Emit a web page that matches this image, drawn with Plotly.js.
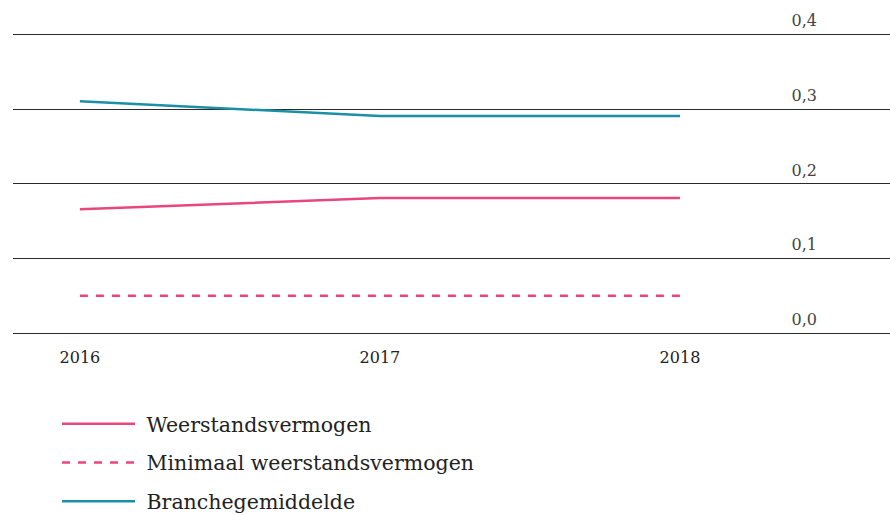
<!DOCTYPE html>
<html>
<head>
<meta charset="utf-8">
<script src="https://cdn.plot.ly/plotly-3.0.1.min.js"></script>
<style>html,body{margin:0;padding:0;background:#fff;}#chart{width:890px;height:515px;}</style>
</head>
<body>
<div id="chart"></div>
<script>
const years = [2016, 2017, 2018];
const weerstandsvermogen = [0.166, 0.181, 0.181];
const minimaalWeerstandsvermogen = [0.05, 0.05, 0.05];
const branchegemiddelde = [0.311, 0.291, 0.291];
const yTicks = [0, 0.1, 0.2, 0.3, 0.4];
const xTickLabels = ['2016', '2017', '2018'];
const seriesNames = ['Weerstandsvermogen', 'Minimaal weerstandsvermogen', 'Branchegemiddelde'];

const pink = '#e8467c';
const teal = '#1a8fa6';
const fontFamily = '"DejaVu Serif", serif';
const pad = '\u00a0';

const traces = [
  {x: years, y: weerstandsvermogen, name: pad + seriesNames[0], mode: 'lines',
   line: {color: pink, width: 2.5}, legendgroup: 'a'},
  {x: years, y: minimaalWeerstandsvermogen, name: pad + seriesNames[1], mode: 'lines',
   line: {color: pink, width: 2.5, dash: '8px,8px'}, legendgroup: 'b'},
  {x: years, y: branchegemiddelde, name: pad + seriesNames[2], mode: 'lines',
   line: {color: teal, width: 2.5}, legendgroup: 'c'}
];

const layout = {
  width: 890, height: 515,
  margin: {l: 13, r: 0, t: 5, b: 182, autoexpand: false},
  paper_bgcolor: '#fff', plot_bgcolor: '#fff',
  separators: ',.',
  font: {family: fontFamily, color: '#222', size: 16},
  showlegend: true,
  legend: {
    orientation: 'v', xref: 'container', x: 57 / 890, xanchor: 'left',
    yref: 'container', y: 1 - 404 / 515, yanchor: 'top',
    font: {family: fontFamily, size: 20.5, color: '#222'},
    itemwidth: 73, tracegroupgap: 9, bgcolor: 'rgba(0,0,0,0)'
  },
  xaxis: {
    range: [2015.777, 2018.7], tickvals: years, ticktext: xTickLabels,
    showgrid: false, zeroline: false, showline: true, linecolor: '#2a2a2a', linewidth: 1,
    ticks: '', ticklabelstandoff: 10, tickfont: {size: 16}
  },
  yaxis: {
    range: [0, 0.44], tickvals: yTicks, tickformat: '.1f',
    side: 'right', ticklabelposition: 'inside', ticklabelstandoff: 70, ticklabelshift: -14,
    showgrid: true, gridcolor: '#2a2a2a', gridwidth: 1, zeroline: false, showline: false,
    ticks: '', tickfont: {size: 16}
  },
  hovermode: false
};

Plotly.newPlot('chart', traces, layout, {displayModeBar: false, staticPlot: true});
</script>
</body>
</html>
